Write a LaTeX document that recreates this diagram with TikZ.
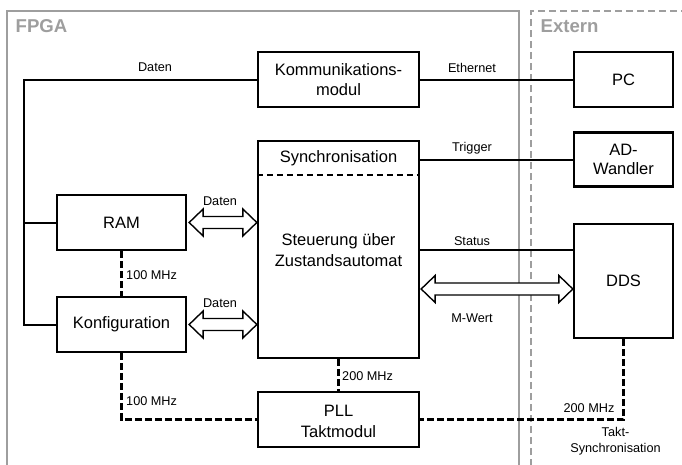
\documentclass[tikz,border=0pt]{standalone}
\usepackage{fontspec}
\setmainfont{Liberation Sans}
\usetikzlibrary{calc}

\definecolor{framegray}{RGB}{158,158,158}

% outlined double-headed bus arrow between two points on one horizontal
\newcommand\bidiarrow[2]{%
  \draw[busarrow] let \p1=#1, \p2=#2 in
    (\x1,\y1) -- (\x1+14pt,\y1+13.5pt) -- (\x1+14pt,\y1+6pt)
    -- (\x2-14pt,\y1+6pt) -- (\x2-14pt,\y1+13.5pt) -- (\x2,\y1)
    -- (\x2-14pt,\y1-13.5pt) -- (\x2-14pt,\y1-6pt)
    -- (\x1+14pt,\y1-6pt) -- (\x1+14pt,\y1-13.5pt) -- cycle;}

\tikzset{
  blk/.style={draw, line width=2.3pt, inner sep=0pt, align=center,
    font=\fontsize{16.5}{19.5}\selectfont},
  boxtext/.style={inner sep=0pt, align=center, font=\fontsize{16.5}{21}\selectfont},
  lbl/.style={inner sep=0pt, align=center, font=\fontsize{12.7}{16}\selectfont},
  sig/.style={line width=2pt},
  clk/.style={line width=2.1pt, dash pattern=on 6.5pt off 3.5pt},
  busarrow/.style={line width=1.4pt, fill=white, line join=miter},
  frame/.style={draw=framegray, line width=2.2pt},
  extframe/.style={draw=framegray, line width=1.8pt, dash pattern=on 7pt off 4pt},
  area/.style={inner sep=0pt, anchor=west, text=framegray,
    font=\fontsize{18.6}{20}\selectfont\bfseries}
}

\begin{document}
\begin{tikzpicture}[x=1pt, y=-1pt]
\useasboundingbox (0,0) rectangle (682,464);

% regions: FPGA (solid) and external devices (dashed)
\draw[frame] (7,466) -- (7,11) -- (519,11) -- (519,466);
\draw[extframe] (531,466) -- (531,11) -- (684,11);
\node[area] (fpgalbl) at (15.5,26) {FPGA};
\node[area] (extlbl) at (540.5,26) {Extern};

% FPGA blocks
\node[blk, minimum width=161, minimum height=55] (komm) at (338.5,79.5) {Kommunikations-\\modul};
\node[blk, minimum width=161, minimum height=217] (main) at (338.5,249.5) {};
\node[blk, minimum width=161, minimum height=55] (pll) at (338.5,419.5) {};
\node[blk, minimum width=129, minimum height=55] (ram) at (121.5,222.5) {RAM};
\node[blk, minimum width=129, minimum height=55] (konf) at (121.5,324.5) {Konfiguration};

\node[boxtext] (sync) at (338.5,158) {Synchronisation};
\node[boxtext] (fsm) at (338.5,250.5) {Steuerung über\\Zustandsautomat};
\node[boxtext] (plltxt) at (338.5,421) {PLL\\Taktmodul};
\draw[line width=1.8pt, dash pattern=on 6.5pt off 3.5pt]
  (main.west |- 0,175) -- (main.east |- 0,175);

% external blocks
\node[blk, minimum width=99, minimum height=55] (pc) at (623.5,79.5) {PC};
\node[blk, minimum width=99, minimum height=54] (ad) at (623.5,159.5) {AD-\\Wandler};
\node[blk, minimum width=99, minimum height=114] (dds) at (623.5,281) {DDS};

% data bus on the left
\coordinate (bustop) at (24,79.5);
\draw[sig] (komm.west) -- (bustop) |- (konf.west);
\draw[sig] (ram.west) -- (bustop |- ram.west);
\node[lbl] (datenlbl) at (155,67) {Daten};

% signals to the outside
\draw[sig] (komm.east) -- (pc.west);
\node[lbl] (ethlbl) at (472,68) {Ethernet};
\draw[sig] (main.east |- ad.west) -- (ad.west);
\node[lbl] (triglbl) at (472,148) {Trigger};
\draw[sig] (main.east) -- (main.east -| dds.west);
\node[lbl] (statlbl) at (472,241) {Status};

% bus arrows
\bidiarrow{($(ram.east)+(2,0)$)}{(main.west |- ram.east)}
\node[lbl] (ramdaten) at (220,201) {Daten};
\bidiarrow{($(konf.east)+(2,0)$)}{(main.west |- konf.east)}
\node[lbl] (konfdaten) at (220,303) {Daten};
\bidiarrow{($(main.east |- 0,289)+(1,0)$)}{(dds.west |- 0,289)}
\node[lbl] (mwert) at (472,318) {M-Wert};

% clock distribution
\draw[clk] (ram.south) -- (konf.north);
\node[lbl, anchor=west] (clka) at (126,275) {100 MHz};
\draw[clk] (konf.south) |- (pll.west);
\node[lbl, anchor=west] (clkb) at (126,401) {100 MHz};
\draw[clk] (main.south) -- (pll.north);
\node[lbl, anchor=west] (clkc) at (342,376) {200 MHz};
\draw[clk] (dds.south) |- (pll.east);
\node[lbl] (clkd) at (589,408) {200 MHz};
\node[lbl] (taktsync) at (615.5,441) {Takt-\\Synchronisation};
\end{tikzpicture}
\end{document}
